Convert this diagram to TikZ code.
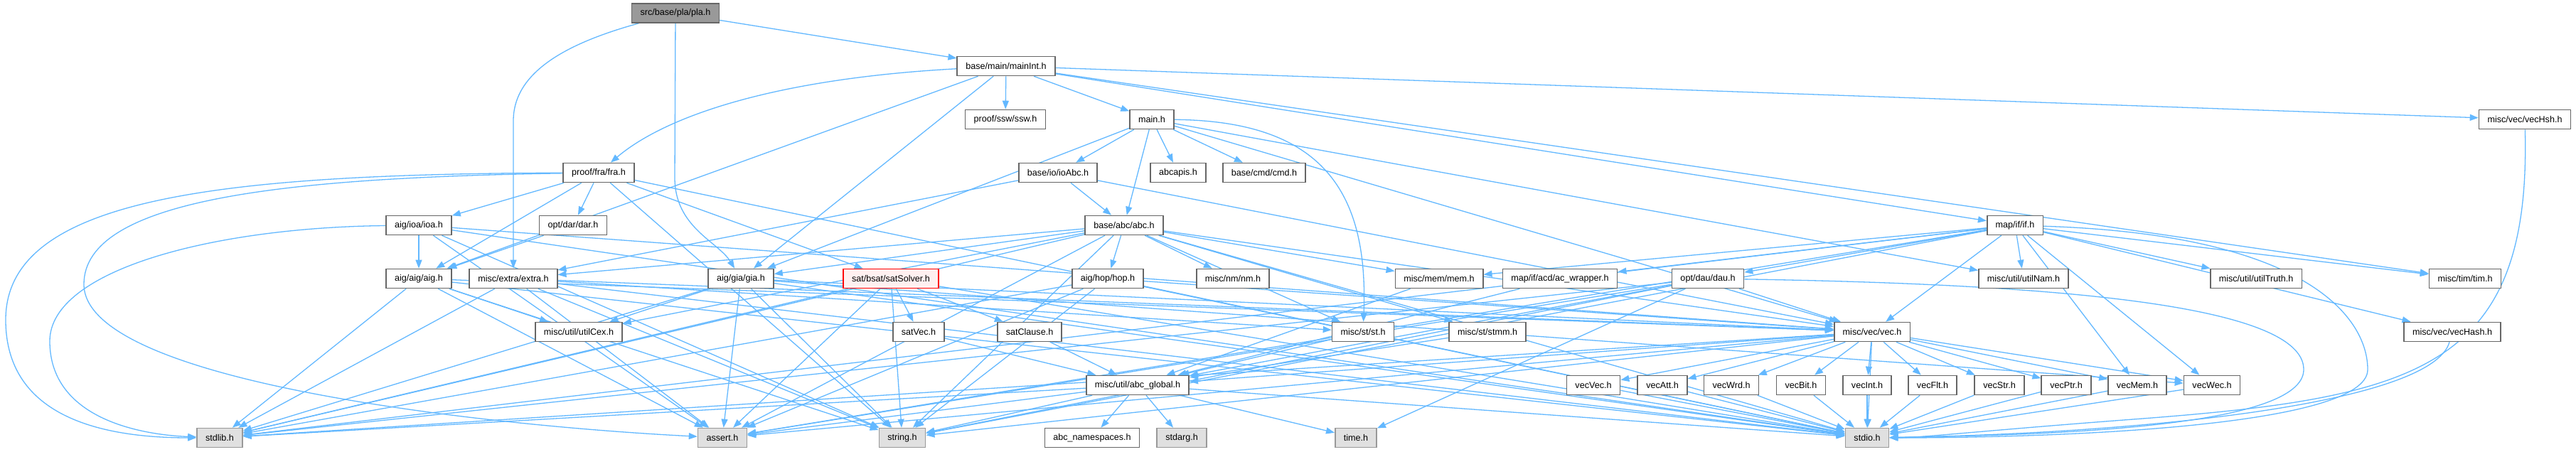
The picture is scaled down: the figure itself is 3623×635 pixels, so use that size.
\documentclass[tikz,border=0pt]{standalone}
\usepackage{fontspec}
\setmainfont{Liberation Sans}
\usetikzlibrary{arrows.meta}
\definecolor{edgeblue}{HTML}{63B8FF}
\definecolor{boxgray}{HTML}{666666}
\definecolor{sysgray}{HTML}{999999}
\definecolor{sysfill}{HTML}{E0E0E0}
\definecolor{rootfill}{HTML}{999999}
\definecolor{badline}{HTML}{FF0000}
\definecolor{badfill}{HTML}{FFF0F0}
\pgfdeclarelayer{back}
\pgfsetlayers{back,main}
\begin{document}
\begin{tikzpicture}[x=1pt, y=-1pt,
        file/.style={draw=boxgray, fill=white, line width=1.6pt, rectangle,
            minimum height=27pt, inner xsep=12pt, inner ysep=0pt,
            font=\fontsize{12.6}{14}\selectfont},
        sys/.style={file, draw=sysgray, fill=sysfill},
        root/.style={file, fill=rootfill},
        bad/.style={file, draw=badline, fill=badfill},
        dep/.style={draw=edgeblue, line width=1.3pt, -{Triangle[length=12pt,width=9pt]}}]
        \def\rA{18.5} % root
        \def\rB{93}
        \def\rC{168}
        \def\rD{243}
        \def\rE{317}
        \def\rF{392}
        \def\rG{467}
        \def\rH{542}
        \def\rI{616} % system headers

        \useasboundingbox (0,0) rectangle (3623,635);

        % Nodes, one rank per block
        \node[root] (pla) at (950,\rA) {src/base/pla/pla.h};

        \node[file] (mainInt) at (1415,\rB) {base/main/mainInt.h};

        \node[file] (ssw) at (1414,\rC) {proof/ssw/ssw.h};
        \node[file] (main) at (1620,\rC) {main.h};
        \node[file] (vecHsh) at (3551,\rC) {misc/vec/vecHsh.h};

        \node[file] (fra) at (842,\rD) {proof/fra/fra.h};
        \node[file] (ioAbc) at (1488,\rD) {base/io/ioAbc.h};
        \node[file] (abcapis) at (1657,\rD) {abcapis.h};
        \node[file] (cmd) at (1778,\rD) {base/cmd/cmd.h};

        \node[file] (ioa) at (589,\rE) {aig/ioa/ioa.h};
        \node[file] (dar) at (806,\rE) {opt/dar/dar.h};
        \node[file] (abc) at (1581,\rE) {base/abc/abc.h};
        \node[file] (ifh) at (2834,\rE) {map/if/if.h};

        \node[file] (aig) at (589,\rF) {aig/aig/aig.h};
        \node[file] (extra) at (722,\rF) {misc/extra/extra.h};
        \node[file] (gia) at (1042,\rF) {aig/gia/gia.h};
        \node[bad] (sat) at (1253,\rF) {sat/bsat/satSolver.h};
        \node[file] (hop) at (1558,\rF) {aig/hop/hop.h};
        \node[file] (nm) at (1734,\rF) {misc/nm/nm.h};
        \node[file] (mem) at (2024,\rF) {misc/mem/mem.h};
        \node[file] (acw) at (2194,\rF) {map/if/acd/ac\_wrapper.h};
        \node[file] (dau) at (2402,\rF) {opt/dau/dau.h};
        \node[file] (utilNam) at (2846,\rF) {misc/util/utilNam.h};
        \node[file] (utilTruth) at (3173,\rF) {misc/util/utilTruth.h};
        \node[file] (tim) at (3467,\rF) {misc/tim/tim.h};

        \node[file] (utilCex) at (814,\rG) {misc/util/utilCex.h};
        \node[file] (satVec) at (1292,\rG) {satVec.h};
        \node[file] (satClause) at (1448,\rG) {satClause.h};
        \node[file] (st) at (1917,\rG) {misc/st/st.h};
        \node[file] (stmm) at (2092,\rG) {misc/st/stmm.h};
        \node[file] (vec) at (2633,\rG) {misc/vec/vec.h};
        \node[file] (vecHash) at (3449,\rG) {misc/vec/vecHash.h};

        \node[file] (global) at (1600,\rH) {misc/util/abc\_global.h};
        \node[file] (vecVec) at (2241,\rH) {vecVec.h};
        \node[file] (vecAtt) at (2338,\rH) {vecAtt.h};
        \node[file] (vecWrd) at (2435,\rH) {vecWrd.h};
        \node[file] (vecBit) at (2533,\rH) {vecBit.h};
        \node[file] (vecInt) at (2626,\rH) {vecInt.h};
        \node[file] (vecFlt) at (2718,\rH) {vecFlt.h};
        \node[file] (vecStr) at (2812,\rH) {vecStr.h};
        \node[file] (vecPtr) at (2906,\rH) {vecPtr.h};
        \node[file] (vecMem) at (3006,\rH) {vecMem.h};
        \node[file] (vecWec) at (3111,\rH) {vecWec.h};

        \node[sys] (stdlib) at (309,\rI) {stdlib.h};
        \node[sys] (assert) at (1016,\rI) {assert.h};
        \node[sys] (string) at (1269,\rI) {string.h};
        \node[file] (namesp) at (1536,\rI) {abc\_namespaces.h};
        \node[sys] (stdarg) at (1662,\rI) {stdarg.h};
        \node[sys] (time) at (1907,\rI) {time.h};
        \node[sys] (stdio) at (2626,\rI) {stdio.h};

        % Includes, grouped by the including file, kept behind the boxes
        \begin{pgfonlayer}{back}
        \draw[dep] (pla) .. controls (800,60) and (722,100) .. (722,170) -- (extra);
        \draw[dep] (pla) -- (949,250) .. controls (949,320) and (1010,340) .. (gia);
        \draw[dep] (pla) -- (mainInt);
        \foreach \t in {ssw,main,aig,gia,vecHsh,tim,ifh} \draw[dep] (mainInt) -- (\t);
        \draw[dep] (mainInt) .. controls (1100,110) and (940,160) .. (fra);
        \foreach \t in {ioAbc,abcapis,cmd,abc,gia,utilNam,vec} \draw[dep] (main) -- (\t);
        \draw[dep] (main) .. controls (1860,170) and (1925,270) .. (st);
        \foreach \t in {abc,extra,vec} \draw[dep] (ioAbc) -- (\t);
        \foreach \t in {ioa,dar,sat,aig,string,stdio} \draw[dep] (fra) -- (\t);
        % the long way round on the left
        \draw[dep] (fra) .. controls (300,245) and (8,280) .. (8,450)
            .. controls (8,590) and (150,616) .. (stdlib);
        \draw[dep] (fra) .. controls (400,250) and (118,280) .. (118,400)
            .. controls (118,540) and (700,600) .. (assert);
        \draw[dep] (ioa) .. controls (300,320) and (70,380) .. (70,480)
            .. controls (70,590) and (200,612) .. (stdlib);
        \foreach \t in {aig,vec,string,assert,stdio} \draw[dep] (ioa) -- (\t);
        \draw[dep] (dar) -- (aig);
        \foreach \t in {gia,extra,utilCex,hop,nm,mem,st,stmm,vec,stdlib,string,assert,stdio}
            \draw[dep] (abc) -- (\t);
        \foreach \t in {mem,acw,dau,utilNam,utilTruth,tim,vec,vecHash,vecMem,vecWec,stdlib,string,assert}
            \draw[dep] (ifh) -- (\t);
        % the long way round on the right
        \draw[dep] (ifh) .. controls (3250,330) and (3330,450) .. (3330,520)
            .. controls (3330,600) and (2900,616) .. (stdio);
        \foreach \t in {utilCex,vec,stdlib,string,assert,stdio} \draw[dep] (aig) -- (\t);
        \foreach \t in {st,vec,stdlib,string,assert,stdio} \draw[dep] (extra) -- (\t);
        \foreach \t in {utilCex,vec,vecWec,stdlib,string,assert,stdio} \draw[dep] (gia) -- (\t);
        \foreach \t in {satVec,satClause,stdlib,string,assert,stdio} \draw[dep] (sat) -- (\t);
        \foreach \t in {vec,stdlib,string,assert,stdio} \draw[dep] (hop) -- (\t);
        \foreach \t in {vec,global,time,stdlib,string,assert} \draw[dep] (dau) -- (\t);
        \draw[dep] (dau) .. controls (2900,400) and (3240,430) .. (3240,520)
            .. controls (3240,600) and (2900,612) .. (stdio);
        \foreach \s in {mem,acw,st,stmm,satVec,satClause} \draw[dep] (\s) -- (global);
        \foreach \t in {global,vecVec,vecAtt,vecWrd,vecBit,vecInt,vecFlt,vecStr,vecPtr,vecMem,vecWec,stdlib,string,assert,stdio}
            \draw[dep] (vec) -- (\t);
        \foreach \s in {vecVec,vecAtt,vecWrd,vecBit,vecInt,vecFlt,vecStr,vecPtr,vecMem,vecWec}
            \draw[dep] (\s) -- (stdio);
        \draw[dep] (vecHash) .. controls (3420,570) and (3000,610) .. (stdio);
        \draw[dep] (vecHsh) .. controls (3560,520) and (3400,560) .. (3000,590)
            .. controls (2800,605) and (2700,616) .. (stdio);
        \foreach \t in {stdlib,assert,string,namesp,stdarg,time,stdio} \draw[dep] (global) -- (\t);
        \end{pgfonlayer}
\end{tikzpicture}
\end{document}
